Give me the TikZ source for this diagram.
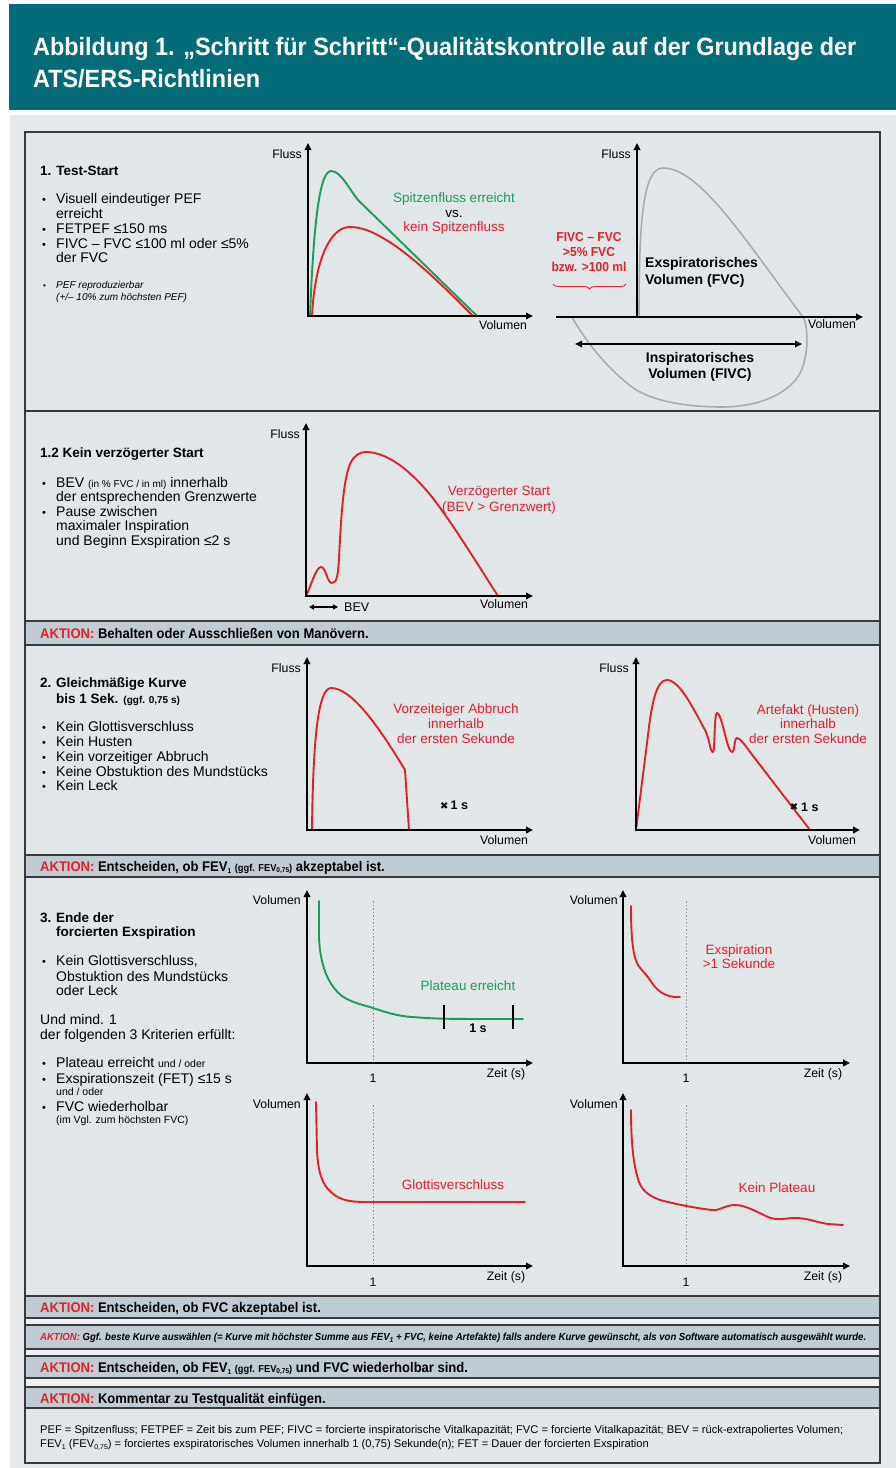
\documentclass[tikz,border=0pt]{standalone}
\usepackage{graphicx}
\usepackage{fontspec}
\setmainfont{Liberation Sans}
\newfontfamily\titlef[FakeStretch=0.935]{Liberation Sans}
\newfontfamily\condf[FakeStretch=0.93]{Liberation Sans}
\newfontfamily\symf{DejaVu Sans}
\usetikzlibrary{arrows.meta,decorations.pathreplacing}
\definecolor{tealh}{HTML}{036C78}
\definecolor{bgc}{HTML}{E1E6E9}
\definecolor{outc}{HTML}{E6E9EC}
\definecolor{barc}{HTML}{BFCCD3}
\definecolor{gapc}{HTML}{EEF1F3}
\definecolor{edgec}{HTML}{3A3A3A}
\definecolor{redc}{HTML}{E2202A}
\definecolor{greenc}{HTML}{1B9D57}
\definecolor{loopc}{HTML}{ABABAB}
\definecolor{dotc}{HTML}{8C8C8C}
\newcommand\fsz[1]{\fontsize{#1}{#1}\selectfont}
\newcommand\lsub[1]{\raisebox{-0.35ex}{\fsz{7}#1}}
\begin{document}
\begin{tikzpicture}[x=1pt,y=-1pt,
  tx/.style={inner sep=0pt,anchor=base west,font=\fsz{14}},
  hd/.style={inner sep=0pt,anchor=base west,font=\fsz{13.5}\bfseries},
  bul/.style={inner sep=0pt,anchor=base west,font=\fsz{11}},
  sit/.style={inner sep=0pt,anchor=base west,font=\fsz{10}\itshape},
  al/.style={inner sep=0pt,font=\fsz{12.3}},
  ctx/.style={inner sep=0pt,anchor=base,font=\fsz{13.5}},
  rtx/.style={ctx,text=redc},
  gtx/.style={ctx,text=greenc},
  btx/.style={inner sep=0pt,font=\fsz{14}\bfseries},
  rbx/.style={inner sep=0pt,anchor=base,font=\condf\fsz{13}\bfseries,text=redc},
  axisln/.style={line width=1.8pt,line join=miter},
  atip/.style={-{Triangle[length=7pt,width=6.5pt]}},
  btip/.style={{Triangle[length=7pt,width=6.5pt]}-{Triangle[length=7pt,width=6.5pt]}},
  rc/.style={draw=redc,line width=1.9pt,line join=round,line cap=round},
  gc/.style={draw=greenc,line width=1.9pt,line join=round,line cap=round},
  dots/.style={draw=dotc,line width=0.8pt,dash pattern=on 1.5pt off 2pt},
  sect/.style={draw=edgec,line width=1.3pt,fill=bgc},
  barbox/.style={draw=edgec,line width=1.3pt,fill=barc},
  akt/.style={inner sep=0pt,anchor=base west,font=\condf\fsz{14}\bfseries},
]
\fill[white] (0,0) rectangle (896,1468);
\useasboundingbox (0,0) rectangle (896,1468);
\fill[tealh] (9,4) rectangle (896,110);
\fill[outc] (10,115) rectangle (896,1468);

% header
\node[inner sep=0pt,anchor=base west,text=white,font=\titlef\fsz{25}\bfseries] (ttl1) at (33,55) {Abbildung 1. „Schritt für Schritt“-Qualitätskontrolle auf der Grundlage der};
\node[inner sep=0pt,anchor=base west,text=white,font=\titlef\fsz{25}\bfseries] (ttl2) at (33,87) {ATS/ERS-Richtlinien};

% boxes
\draw[sect] (25,132) rectangle (880,411);
\draw[sect] (25,411) rectangle (880,621);
\draw[barbox] (25,621) rectangle (880,645);
\draw[sect] (25,645) rectangle (880,855);
\draw[barbox] (25,855) rectangle (880,877);
\draw[sect] (25,877) rectangle (880,1296);
\fill[gapc] (25,1318) rectangle (880,1325);
\fill[gapc] (25,1349) rectangle (880,1356);
\fill[gapc] (25,1378) rectangle (880,1387);
\draw[edgec,line width=1.3pt] (25,1318) -- (25,1387) (880,1318) -- (880,1387);
\draw[barbox] (25,1296) rectangle (880,1318);
\draw[barbox] (25,1325) rectangle (880,1349);
\draw[barbox] (25,1356) rectangle (880,1378);
\draw[barbox] (25,1387) rectangle (880,1408);
\draw[sect] (25,1408) rectangle (880,1463);

% ---------- section 1 text
\node[hd] (s1h) at (40,175) {1. Test-Start};
\node[bul] (s1b1) at (42,203.5) {•};
\node[tx] (s1l1) at (56,203.5) {Visuell eindeutiger PEF};
\node[tx] (s1l2) at (56,218.3) {erreicht};
\node[bul] (s1b2) at (42,233) {•};
\node[tx] (s1l3) at (56,233) {FETPEF ≤150 ms};
\node[bul] (s1b3) at (42,248) {•};
\node[tx] (s1l4) at (56,248) {FIVC – FVC ≤100 ml oder ≤5\%};
\node[tx] (s1l5) at (56,262.5) {der FVC};
\node[bul,font=\fsz{8}] (s1b4) at (43,288.5) {•};
\node[sit] (s1l6) at (56,288.5) {PEF reproduzierbar};
\node[sit] (s1l7) at (56,300.5) {(+/– 10\% zum höchsten PEF)};

% ---------- graph 1a
\coordinate (g1o) at (308,316); \coordinate (g1t) at (308,143); \coordinate (g1r) at (533,316);
\draw[gc] (310,316) .. controls (313,240) and (318,171) .. (331,171) .. controls (341,171) and (349,189) .. (358,200) -- (477,316);
\draw[rc] (312,316) .. controls (315,260) and (330,227) .. (350,227) .. controls (365,227) and (378,235) .. (388,241) .. controls (415,258) and (445,288) .. (473,316);
\draw[axisln,btip] (g1t) -- (g1o) -- (g1r);
\node[al,anchor=base east] (g1y) at (302,158) {Fluss};
\node[al,anchor=base] (g1x) at (503,329) {Volumen};
\node[gtx] (g1a) at (454,202) {Spitzenfluss erreicht};
\node[ctx] (g1b) at (454,217) {vs.};
\node[rtx] (g1c) at (454,231) {kein Spitzenfluss};

% ---------- graph 1b
\coordinate (g2o) at (637,317); \coordinate (g2t) at (637,143);
\coordinate (g2l) at (556,317); \coordinate (g2r) at (863,317);
\draw[loopc,line width=1.6pt] (639,317) .. controls (639,220) and (643,168) .. (663,168) .. controls (700,168) and (745,240) .. (803,317) .. controls (809,328) and (809,362) .. (797,378) .. controls (782,398) and (752,407) .. (722,407) .. controls (690,407) and (652,402) .. (632,387) .. controls (608,369) and (586,342) .. (572,317);
\draw[axisln,atip] (g2o) -- (g2t);
\draw[axisln,atip] (g2l) -- (g2r);
\node[al,anchor=base east] (g2y) at (631,158) {Fluss};
\node[al,anchor=base] (g2x) at (832,328) {Volumen};
\coordinate (g2a) at (575,344); \coordinate (g2b) at (802,344);
\draw[line width=1.6pt,btip] (g2a) -- (g2b);
\node[btx,anchor=base] (g2i1) at (700,362.5) {Inspiratorisches};
\node[btx,anchor=base] (g2i2) at (700,378) {Volumen (FIVC)};
\node[btx,anchor=base west] (g2e1) at (645,267.5) {Exspiratorisches};
\node[btx,anchor=base west] (g2e2) at (645,284) {Volumen (FVC)};
\node[rbx] (g2f1) at (589,241) {FIVC – FVC};
\node[rbx] (g2f2) at (589,256) {>5\% FVC};
\node[rbx] (g2f3) at (589,271) {bzw. >100 ml};
\coordinate (br1) at (626,284); \coordinate (br2) at (553,284);
\draw[redc,line width=0.9pt,decorate,decoration={brace,amplitude=5pt}] (br1) -- (br2);

% ---------- section 1.2
\node[hd] (s2h) at (40,457) {1.2 Kein verzögerter Start};
\node[bul] (s2b1) at (42,487) {•};
\node[tx] (s2l1) at (56,487) {BEV {\fsz{10}(in \% FVC / in ml)} innerhalb};
\node[tx] (s2l2) at (56,501.5) {der entsprechenden Grenzwerte};
\node[bul] (s2b2) at (42,516) {•};
\node[tx] (s2l3) at (56,516) {Pause zwischen};
\node[tx] (s2l4) at (56,530.5) {maximaler Inspiration};
\node[tx] (s2l5) at (56,545) {und Beginn Exspiration ≤2 s};

\coordinate (g3o) at (306,596); \coordinate (g3t) at (306,423); \coordinate (g3r) at (533,596);
\draw[rc] (306,596) .. controls (311,586) and (316,567) .. (321,567) .. controls (326,567) and (327,583) .. (332,583) .. controls (337,583) and (338,575) .. (339,558) .. controls (341,520) and (343,478) .. (351,462) .. controls (355,455) and (360,452) .. (366,452) .. controls (388,452) and (412,472) .. (432,497) .. controls (455,527) and (478,565) .. (498,596);
\draw[axisln,btip] (g3t) -- (g3o) -- (g3r);
\node[al,anchor=base east] (g3y) at (300,438) {Fluss};
\node[al,anchor=base] (g3x) at (504,608) {Volumen};
\coordinate (g3b1) at (309,607); \coordinate (g3b2) at (338,607);
\draw[line width=1.3pt,{Triangle[length=5pt,width=5pt]}-{Triangle[length=5pt,width=5pt]}] (g3b1) -- (g3b2);
\node[al,anchor=base west,font=\fsz{12.5}] (g3bev) at (344,611) {BEV};
\node[rtx] (g3r1) at (499,495) {Verzögerter Start};
\node[rtx] (g3r2) at (499,511) {(BEV > Grenzwert)};

\node[akt] (a1) at (40,638) {\textcolor{redc}{AKTION:} Behalten oder Ausschließen von Manövern.};

% ---------- section 2
\node[hd] (s3n) at (40,687.5) {2.};
\node[hd] (s3h1) at (56,687.5) {Gleichmäßige Kurve};
\node[hd] (s3h2) at (56,703) {bis 1 Sek. {\fsz{10}(ggf. 0,75 s)}};
\node[bul] (s3b1) at (42,731.5) {•};
\node[tx] (s3l1) at (56,731.5) {Kein Glottisverschluss};
\node[bul] (s3b2) at (42,746.5) {•};
\node[tx] (s3l2) at (56,746.5) {Kein Husten};
\node[bul] (s3b3) at (42,761) {•};
\node[tx] (s3l3) at (56,761) {Kein vorzeitiger Abbruch};
\node[bul] (s3b4) at (42,776) {•};
\node[tx] (s3l4) at (56,776) {Keine Obstuktion des Mundstücks};
\node[bul] (s3b5) at (42,790.5) {•};
\node[tx] (s3l5) at (56,790.5) {Kein Leck};

\coordinate (g4o) at (307,830); \coordinate (g4t) at (307,657); \coordinate (g4r) at (533,830);
\draw[rc] (312,830) .. controls (313,740) and (318,688) .. (331,688) .. controls (350,688) and (375,720) .. (405,770) -- (409,830);
\draw[axisln,btip] (g4t) -- (g4o) -- (g4r);
\node[al,anchor=base east] (g4y) at (301,672) {Fluss};
\node[al,anchor=base] (g4x) at (504,844) {Volumen};
\node[rtx] (g4r1) at (456,713) {Vorzeiteiger Abbruch};
\node[rtx] (g4r2) at (456,728) {innerhalb};
\node[rtx] (g4r3) at (456,743) {der ersten Sekunde};
\node[inner sep=0pt,anchor=base west,font=\fsz{12.5}\bfseries] (g4s) at (440,809) {{\symf\fsz{10}✖}\,1 s};

\coordinate (g5o) at (636,830); \coordinate (g5t) at (636,657); \coordinate (g5r) at (860,830);
\draw[rc] (636,830) -- (648,735) .. controls (652,700) and (657,680) .. (667,680) .. controls (680,680) and (695,712) .. (705,730) .. controls (710,740) and (710,752) .. (713,752) .. controls (715,752) and (714,713) .. (717,713) .. controls (722,713) and (727,752) .. (732,752) .. controls (735,752) and (734,738) .. (737,738) .. controls (740,738) and (745,745) .. (750,752) -- (810,830);
\draw[axisln,btip] (g5t) -- (g5o) -- (g5r);
\node[al,anchor=base east] (g5y) at (629,672) {Fluss};
\node[al,anchor=base] (g5x) at (832,844) {Volumen};
\node[rtx] (g5r1) at (808,714) {Artefakt (Husten)};
\node[rtx] (g5r2) at (808,728) {innerhalb};
\node[rtx] (g5r3) at (808,743) {der ersten Sekunde};
\node[inner sep=0pt,font=\symf\fsz{10}] (g5x1) at (794,807) {✖};
\node[inner sep=0pt,anchor=base west,font=\fsz{12.5}\bfseries] (g5s) at (801,811) {1 s};

\node[akt] (a2) at (40,871) {\textcolor{redc}{AKTION:} Entscheiden, ob FEV\lsub{1} {\fsz{10}(ggf. FEV\lsub{0,75})} akzeptabel ist.};

% ---------- section 3
\node[hd] (s4n) at (40,922.5) {3.};
\node[hd] (s4h1) at (56,922.5) {Ende der};
\node[hd] (s4h2) at (56,936.5) {forcierten Exspiration};
\node[bul] (s4b1) at (42,965.5) {•};
\node[tx] (s4l1) at (56,965.5) {Kein Glottisverschluss,};
\node[tx] (s4l2) at (56,981) {Obstuktion des Mundstücks};
\node[tx] (s4l3) at (56,995.5) {oder Leck};
\node[tx] (s4l4) at (40,1024.5) {Und mind. 1};
\node[tx] (s4l5) at (40,1039.5) {der folgenden 3 Kriterien erfüllt:};
\node[bul] (s4b2) at (42,1067.5) {•};
\node[tx] (s4l6) at (56,1067.5) {Plateau erreicht {\fsz{10.5}und / oder}};
\node[bul] (s4b3) at (42,1083.5) {•};
\node[tx] (s4l7) at (56,1083.5) {Exspirationszeit (FET) ≤15 s};
\node[tx,font=\fsz{10.5}] (s4l8) at (56,1095.5) {und / oder};
\node[bul] (s4b4) at (42,1111.5) {•};
\node[tx] (s4l9) at (56,1111.5) {FVC wiederholbar};
\node[tx,font=\fsz{10.5}] (s4l10) at (56,1123.5) {(im Vgl. zum höchsten FVC)};

% graph 3a
\coordinate (h1o) at (307,1063); \coordinate (h1t) at (307,890); \coordinate (h1r) at (533,1063);
\draw[dots] (373,901) -- (373,1063);
\draw[gc] (319,901) -- (319,937) .. controls (320,965) and (328,985) .. (342,996) .. controls (352,1003) and (364,1005) .. (373,1008) .. controls (385,1012) and (397,1016) .. (412,1017) .. controls (440,1019) .. (523,1019);
\draw[axisln,btip] (h1t) -- (h1o) -- (h1r);
\draw[line width=1.3pt] (444,1005) -- (444,1029) (513,1005) -- (513,1029);
\node[al,anchor=base east] (h1y) at (301,904) {Volumen};
\node[al,anchor=base] (h1x) at (506,1077) {Zeit (s)};
\node[al,anchor=base] (h1n) at (373,1082) {1};
\node[inner sep=0pt,anchor=base,font=\fsz{12.5}\bfseries] (h1s) at (478,1032) {1 s};
\node[gtx] (h1p) at (468,990) {Plateau erreicht};

% graph 3b
\coordinate (h2o) at (623,1063); \coordinate (h2t) at (623,890); \coordinate (h2r) at (850,1063);
\draw[dots] (686,901) -- (686,1063);
\draw[rc] (631,906) .. controls (631,930) and (632,955) .. (638,965) .. controls (642,971) and (646,974) .. (650,980) .. controls (656,990) and (665,998) .. (680,997);
\draw[axisln,btip] (h2t) -- (h2o) -- (h2r);
\node[al,anchor=base east] (h2y) at (618,904) {Volumen};
\node[al,anchor=base] (h2x) at (823,1077) {Zeit (s)};
\node[al,anchor=base] (h2n) at (686,1082) {1};
\node[rtx] (h2r1) at (739,954) {Exspiration};
\node[rtx] (h2r2) at (739,968) {>1 Sekunde};

% graph 3c
\coordinate (h3o) at (307,1266); \coordinate (h3t) at (307,1093); \coordinate (h3r) at (533,1266);
\draw[dots] (373,1105) -- (373,1266);
\draw[rc] (316,1102) -- (317,1150) .. controls (318,1172) and (322,1185) .. (332,1193) .. controls (340,1200) and (350,1202) .. (365,1202) -- (525,1202);
\draw[axisln,btip] (h3t) -- (h3o) -- (h3r);
\node[al,anchor=base east] (h3y) at (301,1108) {Volumen};
\node[al,anchor=base] (h3x) at (506,1280) {Zeit (s)};
\node[al,anchor=base] (h3n) at (373,1286) {1};
\node[rtx] (h3g) at (453,1189) {Glottisverschluss};

% graph 3d
\coordinate (h4o) at (623,1266); \coordinate (h4t) at (623,1093); \coordinate (h4r) at (850,1266);
\draw[dots] (686,1105) -- (686,1266);
\draw[rc] (631,1110) .. controls (631,1140) and (633,1165) .. (639,1182) .. controls (643,1192) and (650,1196) .. (660,1200) .. controls (675,1204) and (695,1208) .. (712,1210) .. controls (720,1211) and (725,1205) .. (735,1205) .. controls (745,1205) and (755,1211) .. (768,1217) .. controls (778,1221) and (785,1218) .. (795,1218) .. controls (808,1218) and (815,1222) .. (828,1224) .. controls (835,1225) .. (843,1225);
\draw[axisln,btip] (h4t) -- (h4o) -- (h4r);
\node[al,anchor=base east] (h4y) at (618,1108) {Volumen};
\node[al,anchor=base] (h4x) at (823,1280) {Zeit (s)};
\node[al,anchor=base] (h4n) at (686,1286) {1};
\node[rtx] (h4k) at (777,1192) {Kein Plateau};

% ---------- action bars
\node[akt] (a3) at (40,1312) {\textcolor{redc}{AKTION:} Entscheiden, ob FVC akzeptabel ist.};
\node[inner sep=0pt,anchor=base west,font=\condf\fsz{10}\bfseries\itshape] (a4) at (40,1340.5) {\resizebox{826pt}{!}{\textcolor{redc}{AKTION:} Ggf. beste Kurve auswählen (= Kurve mit höchster Summe aus FEV\lsub{1} + FVC, keine Artefakte) falls andere Kurve gewünscht, als von Software automatisch ausgewählt wurde.}};
\node[akt] (a5) at (40,1372) {\textcolor{redc}{AKTION:} Entscheiden, ob FEV\lsub{1} {\fsz{10}(ggf. FEV\lsub{0,75})} und FVC wiederholbar sind.};
\node[akt] (a6) at (40,1403) {\textcolor{redc}{AKTION:} Kommentar zu Testqualität einfügen.};

% ---------- footer
\node[inner sep=0pt,anchor=base west,font=\fsz{11.15}] (f1) at (40,1433.5) {PEF = Spitzenfluss; FETPEF = Zeit bis zum PEF; FIVC = forcierte inspiratorische Vitalkapazität; FVC = forcierte Vitalkapazität; BEV = rück-extrapoliertes Volumen;};
\node[inner sep=0pt,anchor=base west,font=\fsz{11.15}] (f2) at (40,1447) {FEV\lsub{1} (FEV\lsub{0,75}) = forciertes exspiratorisches Volumen innerhalb 1 (0,75) Sekunde(n); FET = Dauer der forcierten Exspiration};
\end{tikzpicture}
\end{document}
